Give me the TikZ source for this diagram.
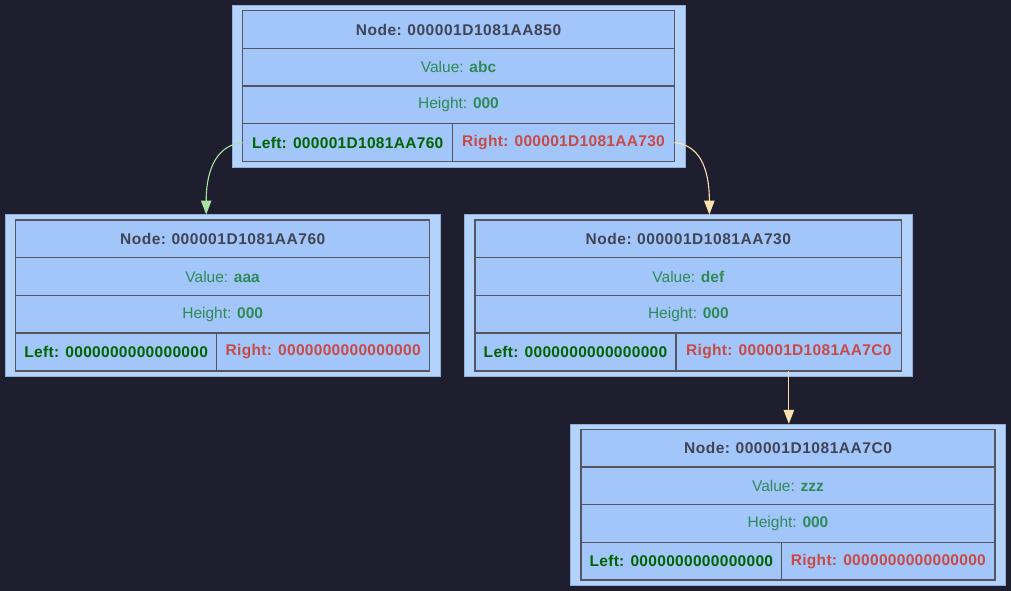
\documentclass[tikz,border=0pt]{standalone}
\usepackage{fontspec}
\setmainfont{Liberation Sans}
\newfontfamily\widefont[LetterSpace=2]{Liberation Sans}
\newfontfamily\headfont[LetterSpace=3.5]{Liberation Sans}
\usetikzlibrary{arrows.meta,positioning}
\definecolor{bgdark}{HTML}{1E1E2E}
\definecolor{boxfill}{HTML}{B3D3FC}
\definecolor{boxedge}{HTML}{8FAED8}
\definecolor{cellfill}{HTML}{A2C5FA}
\definecolor{gridln}{HTML}{55555F}
\definecolor{nodetxt}{HTML}{404455}
\definecolor{valgreen}{HTML}{2E8B57}
\definecolor{leftgreen}{HTML}{006400}
\definecolor{rightred}{HTML}{C94A44}
\definecolor{lnkgreen}{HTML}{A6E3A1}
\definecolor{lnkpeach}{HTML}{F9E2AF}

% one tree node: name, x, y (top left of table), left width, right width, address, value, left, right
\newcommand\avlnode[9]{%
  \node[nodebox,minimum width={#4+#5+21.4},anchor=north west] (#1) at ({#2-10.7},{#3-5.5}) {};
  \node[slot,minimum width={#4+#5},anchor=north west] (#1-n) at (#2,#3) {\textcolor{nodetxt}{\headfont\bfseries Node:\hspace{-1pt} #6}};
  \node[slot,minimum width={#4+#5},below=0pt of #1-n] (#1-v) {\textcolor{valgreen}{Value: \textbf{#7}}};
  \node[slot,minimum width={#4+#5},below=0pt of #1-v] (#1-h) {\textcolor{valgreen}{Height: \textbf{000}}};
  \node[slot,minimum width={#4},anchor=north west] (#1-l) at (#1-h.south west) {\textcolor{leftgreen}{\widefont\bfseries Left: #8}};
  \node[slot,minimum width={#5},anchor=north west] (#1-r) at (#1-l.north east) {\textcolor{rightred}{\widefont\bfseries Right: #9}};
}

\begin{document}
\begin{tikzpicture}[x=1pt,y=-1pt,font=\fontsize{15.5}{18}\selectfont,
  nodebox/.style={draw=boxedge,line width=0.6pt,fill=boxfill,inner sep=0pt,outer sep=0pt,minimum height=161.8},
  slot/.style={draw=gridln,line width=1.4pt,fill=cellfill,inner sep=0pt,outer sep=0pt,minimum height=37.7},
  lnk/.style={-{Triangle[length=14pt,width=10.5pt]},line width=1.1pt}]
\fill[bgdark] (0,0) rectangle (1011,591);
\avlnode{top}{242.7}{10.7}{210}{221.6}{000001D1081AA850}{abc}{000001D1081AA760}{000001D1081AA730}
\avlnode{left}{15.7}{220}{201}{213}{000001D1081AA760}{aaa}{0000000000000000}{0000000000000000}
\avlnode{right}{475}{220}{201}{225.7}{000001D1081AA730}{def}{0000000000000000}{000001D1081AA7C0}
\avlnode{bottom}{581}{429.3}{200.7}{213.3}{000001D1081AA7C0}{zzz}{0000000000000000}{0000000000000000}
% child links
\draw[lnk,lnkgreen] (top-l.west) .. controls +(-24,2) and +(0,-48) .. ([xshift=-16.5pt]left.north);
\draw[lnk,lnkpeach] (top-r.east) .. controls +(24,2) and +(0,-48) .. ([xshift=21pt]right.north);
\draw[lnk,lnkpeach] (right-r.south) -- (right-r.south |- bottom.north);
\end{tikzpicture}
\end{document}
